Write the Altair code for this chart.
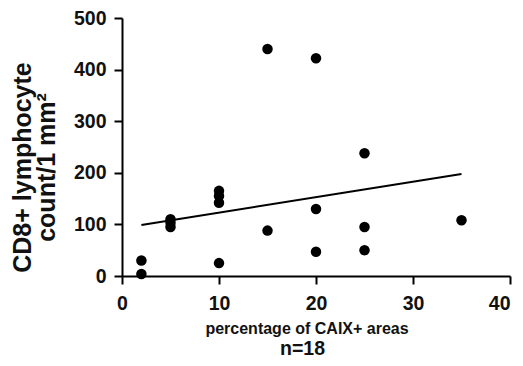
import altair as alt
import pandas as pd

# percentage of CAIX+ areas
caix_pct = [2, 2, 5, 5, 5, 10, 10, 10, 10, 15, 15, 20, 20, 20, 25, 25, 25, 35]
# CD8+ lymphocyte count / 1 mm^2
cd8_count = [30, 4, 110, 103, 95, 165, 155, 142, 25, 440, 88, 422, 130, 47, 238, 95, 50, 108]

x_ticks = [0, 10, 20, 30, 40]
y_ticks = [0, 100, 200, 300, 400, 500]

df = pd.DataFrame({"caix": caix_pct, "cd8": cd8_count})

FONT = "Liberation Sans"

x_enc = alt.X(
    "caix:Q",
    scale=alt.Scale(domain=[0, 40], nice=False),
    axis=alt.Axis(
        values=x_ticks,
        labelFlush=False,
        labelAlign=alt.expr("datum.value == 40 ? 'right' : 'center'"),
        labelPadding=10,
        title="percentage of CAIX+ areas",
        titleFontSize=16,
        titleBaseline="alphabetic",
        titleAlign="center",
        titleX=184.5,
        titleY=57,
    ),
)
y_enc = alt.Y(
    "cd8:Q",
    scale=alt.Scale(domain=[0, 500], nice=False),
    axis=alt.Axis(
        values=y_ticks,
        labelFlush=False,
        labelPadding=8,
        title=["CD8+ lymphocyte", "count/1 mm²"],
        titleFontSize=25,
        titleLineHeight=24,
        titleAngle=270,
        titleBaseline="alphabetic",
        titleAlign="center",
        titleX=-92,
        titleY=149,
    ),
)

points = alt.Chart(df).mark_circle(size=110, color="black", opacity=1).encode(x=x_enc, y=y_enc)

fit = (
    alt.Chart(df)
    .transform_regression("caix", "cd8")
    .mark_line(color="black", strokeWidth=2)
    .encode(x="caix:Q", y="cd8:Q")
)

chart = (
    alt.layer(points, fit)
    .properties(
        width=388,
        height=258,
        autosize=alt.AutoSizeParams(type="none"),
        padding={"left": 114, "top": 10, "right": 5, "bottom": 82},
        title=alt.TitleParams(
            "n=18",
            orient="bottom",
            anchor="middle",
            frame="group",
            font=FONT,
            fontSize=19.5,
            fontWeight="bold",
            color="#111",
            dx=-13.5,
            offset=4,
        ),
    )
    .configure_view(stroke=None)
    .configure_axis(
        grid=False,
        domainColor="black",
        domainWidth=2,
        tickColor="black",
        tickWidth=2,
        tickSize=8,
        labelFont=FONT,
        labelFontSize=19.5,
        labelFontWeight="bold",
        labelColor="#111",
        titleFont=FONT,
        titleFontWeight="bold",
        titleColor="#111",
    )
)

chart.save("out.html", embed_options={"renderer": "svg", "actions": False})
